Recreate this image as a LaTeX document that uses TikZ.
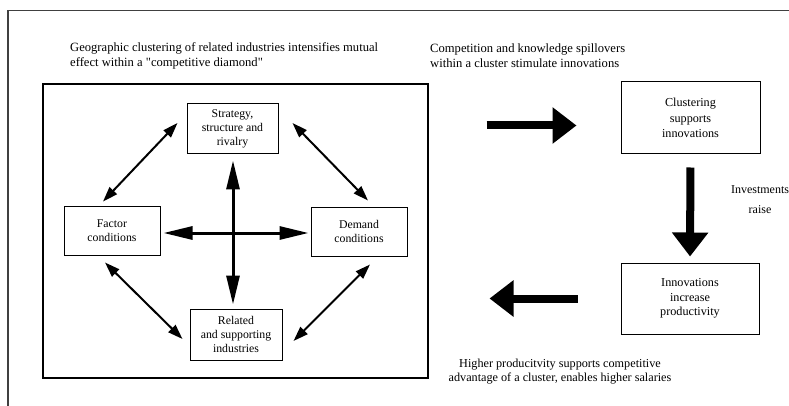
\documentclass[tikz,border=0pt]{standalone}
\usepackage{fontspec}
\setmainfont{Liberation Serif}
\usetikzlibrary{arrows.meta}
\newcommand{\dblarw}{{Triangle[length=15pt,width=10pt]}-{Triangle[length=15pt,width=10pt]}}
\newcommand{\crossarw}{-{Triangle[length=29pt,width=13pt]}}
\newcommand{\blockarw}{-{Triangle[length=24pt,width=35pt]}}

\begin{document}
\begin{tikzpicture}[x=1pt,y=-1pt,
  box/.style={draw,line width=1pt,inner sep=0pt,align=center,font=\fontsize{11.8}{14}\selectfont},
  note/.style={inner sep=0pt,font=\fontsize{12.6}{15}\selectfont}]
\useasboundingbox (0,0) rectangle (789,406);
%page frame
\draw[line width=1.5pt,black!75] (8,406) -- (8,10.5) -- (789,10.5);
\node[note,anchor=west,align=left] (geo) at (70,55.5) {Geographic clustering of related industries intensifies mutual\\effect within a \textquotedbl competitive diamond\textquotedbl};
\node[note,anchor=west,align=left] (spill) at (430,55.5) {Competition and knowledge spillovers\\within a cluster stimulate innovations};
%competitive diamond
\draw[line width=1.6pt] (43,84) rectangle (428,378);
\node[box,minimum width=91pt,minimum height=50pt] (strategy) at (232.5,129) {Strategy,\\structure and\\rivalry};
\node[box,minimum width=96pt,minimum height=49pt] (factor) at (112,230.5) {Factor\\conditions};
\node[box,minimum width=96pt,minimum height=49pt] (demand) at (359,231.5) {Demand\\conditions};
\node[box,minimum width=92pt,minimum height=51pt] (related) at (236,334.5) {Related\\and supporting\\industries};
\coordinate (hub) at (233,233);
\draw[line width=3pt,\crossarw,shorten >=3pt] (hub) -- (hub -| factor.east);
\draw[line width=3pt,\crossarw,shorten >=2pt] (hub) -- (hub -| demand.west);
\draw[line width=3pt,\crossarw,shorten >=6pt] (hub) -- (hub |- strategy.south);
\draw[line width=3pt,\crossarw,shorten >=4pt] (hub) -- (hub |- related.north);
\draw[line width=2pt,\dblarw] ([shift={(-9,-6)}]strategy.west) -- ([shift={(-9,-4)}]factor.north);
\draw[line width=2pt,\dblarw] ([shift={(14,-6)}]strategy.east) -- ([shift={(9,-6)}]demand.north);
\draw[line width=2pt,\dblarw] ([shift={(-7,7)}]factor.south) -- ([shift={(-7,4.5)}]related.west);
\draw[line width=2pt,\dblarw] ([shift={(11,8)}]demand.south) -- ([shift={(11,6.5)}]related.east);
%cluster cycle
\node[box,minimum width=139pt,minimum height=72pt,font=\fontsize{12.2}{15.5}\selectfont] (clust) at (690.5,118) {Clustering\\supports\\innovations};
\node[box,minimum width=138pt,minimum height=71pt,font=\fontsize{12.2}{14.5}\selectfont] (innov) at (690,298.5) {Innovations\\increase\\productivity};
\draw[line width=8pt,\blockarw] ([shift={(-134,7.5)}]clust.west) -- ([shift={(-44,7.5)}]clust.west);
\draw[line width=8pt,\blockarw,shorten <=13pt,shorten >=6pt] (clust.south) -- (innov.north);
\draw[line width=8pt,\blockarw] ([shift={(-43,0)}]innov.west) -- ([shift={(-131,0)}]innov.west);
\node[note,align=center,font=\fontsize{12}{20}\selectfont] (invest) at (760,200) {Investments\\raise};
\node[note,align=center,font=\fontsize{12.2}{13.5}\selectfont] (adv) at (560,371.5) {Higher producitvity supports competitive\\advantage of a cluster, enables higher salaries};
\end{tikzpicture}
\end{document}
